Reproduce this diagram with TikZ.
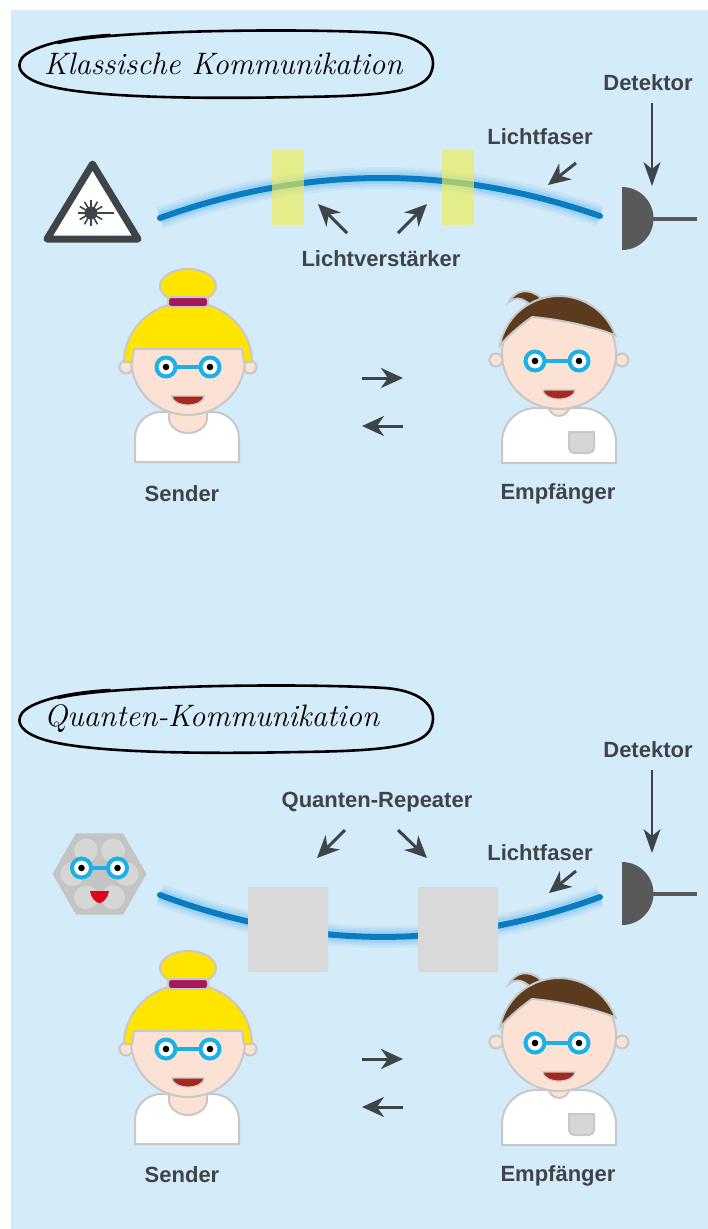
\documentclass[tikz,border=0pt]{standalone}
\usepackage{fontspec}
\usetikzlibrary{arrows.meta}
\newfontfamily\labelfont{Liberation Sans}

\definecolor{bg}{HTML}{D4EBF9}
\definecolor{ink}{HTML}{3F4449}
\definecolor{det}{HTML}{595959}
\definecolor{fib}{HTML}{0A7DC2}
\definecolor{glow}{HTML}{5DB3EA}
\definecolor{amp}{HTML}{EEED52}
\definecolor{rep}{HTML}{D9D9D9}
\definecolor{skin}{HTML}{FCE2D5}
\definecolor{outl}{HTML}{C8C8C8}
\definecolor{blond}{HTML}{FFE500}
\definecolor{band}{HTML}{A6185A}
\definecolor{brownhair}{HTML}{5C3A1E}
\definecolor{glasses}{HTML}{1BB1E7}
\definecolor{lip}{HTML}{A8281F}
\definecolor{pocket}{HTML}{D6D6D6}
\definecolor{hexg}{HTML}{C4C4C4}
\definecolor{hexc}{HTML}{D6D6D6}
\definecolor{tongue}{HTML}{E3001B}

\tikzset{
  lbl/.style={font=\labelfont\bfseries\fontsize{22}{24}\selectfont, text=ink, inner sep=0pt},
  title/.style={font=\itshape\fontsize{31}{32}\selectfont, text=black, inner sep=0pt, anchor=west},
  oval/.style={draw=black, line width=2.6pt, line cap=round},
  arr/.style={draw=ink, line width=3pt, -{Stealth[length=22pt, width=20pt, inset=7pt]}},
  darr/.style={draw=ink, line width=2pt, -{Stealth[length=24pt, width=17pt, inset=7pt]}},
  fiber/.style={draw=fib, line width=6pt, line cap=round,
    preaction={draw=glow, line width=22pt, opacity=.10},
    preaction={draw=glow, line width=17pt, opacity=.15},
    preaction={draw=glow, line width=12pt, opacity=.25}},
  skinpart/.style={draw=outl, line width=2pt, fill=skin},
  part/.style={draw=outl, line width=2pt},
  eye/.style={draw=glasses, line width=4pt, fill=white},
  % girl with a hair bun, origin at the centre of the face
  girl/.pic={
    \draw[part, fill=white] (-53,104) -- (-53,80) arc[start angle=180, end angle=270, radius=26]
      -- (25,54) arc[start angle=270, end angle=360, radius=26] -- (51,104) -- cycle;
    \draw[skinpart] (-19,38) -- (-19,60) arc[start angle=180, end angle=0, x radius=19, y radius=15] -- (19,38);
    \draw[skinpart] (-62,9) circle (6.5) (62,9) circle (6.5);
    \draw[skinpart] (0,1) ellipse[x radius=57, y radius=56];
    \draw[part, fill=blond] (0,-72) ellipse[x radius=28, y radius=17];
    \draw[part, fill=blond] (-64,4) arc[start angle=180, end angle=360, x radius=64, y radius=60]
      -- (56,4) -- (54,-9) -- (-54,-9) -- (-56,4) -- cycle;
    \draw[part, fill=band, rounded corners=3pt] (-20,-61) rectangle (20,-51);
    \draw[eye] (-22,9) circle (9.5) (22,9) circle (9.5);
    \draw[draw=glasses, line width=3.5pt] (-12.5,9) -- (12.5,9);
    \fill[black] (-22,9) circle (3.3) (22,9) circle (3.3);
    \draw[draw=outl, line width=1.2pt, fill=lip] (-16,38) arc[start angle=180, end angle=0, x radius=16, y radius=9] -- cycle;
  },
  % boy with brown hair and a shirt pocket, origin at the centre of the face
  boy/.pic={
    \draw[part, fill=white] (-57,111) -- (-57,90) arc[start angle=180, end angle=270, radius=34]
      -- (23,56) arc[start angle=270, end angle=360, radius=34] -- (57,111) -- cycle;
    \draw[part, fill=pocket] (10,80) -- (10,96) arc[start angle=180, end angle=90, radius=5]
      -- (30,101) arc[start angle=90, end angle=0, radius=5] -- (35,80) -- cycle;
    \draw[skinpart] (-11,40) -- (-11,52) arc[start angle=180, end angle=0, x radius=11, y radius=12] -- (11,40);
    \draw[skinpart] (-63,8) circle (6.5) (63,8) circle (6.5);
    \draw[skinpart] (0,2) ellipse[x radius=57, y radius=55];
    \draw[part, fill=brownhair] (-28,-46) .. controls (-36,-55) and (-44,-55) .. (-50,-50)
      .. controls (-44,-62) and (-30,-65) .. (-18,-54) -- cycle;
    \draw[part, fill=brownhair] (-59.1,-6.4) arc[start angle=190, end angle=340, radius=60]
      .. controls (40,-24) and (0,-33) .. (-27,-35) .. controls (-40,-26) and (-52,-15) .. cycle;
    \draw[eye] (-24,9) circle (9.5) (20,9) circle (9.5);
    \draw[draw=glasses, line width=3.5pt] (-14.5,9) -- (10.5,9);
    \fill[black] (-24,9) circle (3.3) (20,9) circle (3.3);
    \draw[draw=outl, line width=1.2pt, fill=lip] (-16,38) arc[start angle=180, end angle=0, x radius=16, y radius=9] -- cycle;
  },
  % photon detector: half disc with a stem
  detector/.pic={
    \fill[det] (0,-31.5) arc[start angle=270, end angle=450, radius=31.5] -- cycle;
    \draw[det, line width=4pt] (31,0) -- (75,0);
  },
  % hand-drawn oval around a heading
  headoval/.pic={
    \draw[oval] (58,-19) .. controls (110,-32) and (300,-34) .. (385,-29)
      .. controls (425,-26) and (440,-7) .. (430,13)
      .. controls (420,30) and (380,34) .. (300,35)
      .. controls (200,37) and (90,36) .. (45,23)
      .. controls (22,16) and (15,6) .. (22,-4)
      .. controls (30,-14) and (60,-24) .. (110,-27);
  }
}

\begin{document}
\begin{tikzpicture}[x=1pt, y=-1pt]
\useasboundingbox (0,0) rectangle (708,1229);
\fill[bg] (11,10) rectangle (708,1229);

% ---------------- classical communication ----------------
\pic at (0,62) {headoval};
\node[title] (t1) at (44,64) {Klassische Kommunikation};

% laser warning sign
\draw[draw=ink, fill=white, line width=7pt, line join=round] (92.5,164) -- (138,239) -- (47,239) -- cycle;
\fill[ink] (91,213) circle (6.5);
\foreach \a in {0,30,...,330} \draw[ink, line width=1.6pt] (91,213) -- ++(\a:13);
\draw[ink, line width=1.5pt] (91,213) -- (114,213);

% fibre with two classical amplifiers
\coordinate (f1s) at (160,218);
\coordinate (f1e) at (600,216);
\draw[fiber] (f1s) .. controls (307,165) and (453,165) .. (f1e);
\fill[amp, opacity=.65] (272,150) rectangle (304,225);
\fill[amp, opacity=.65] (442,150) rectangle (474,225);

\pic at (622,218.5) {detector};
\node[lbl] (det1) at (648,83) {Detektor};
\coordinate (det1a) at (652,103);
\coordinate (det1b) at (652,186);
\draw[darr] (det1a) -- (det1b);

\node[lbl] (lf1) at (540,137) {Lichtfaser};
\coordinate (lf1a) at (576,163);
\coordinate (lf1b) at (548,185);
\draw[arr] (lf1a) -- (lf1b);

\node[lbl] (amp) at (381,259) {Lichtverstärker};
\coordinate (amp1a) at (347,233);
\coordinate (amp1b) at (318,204);
\coordinate (amp2a) at (398,233);
\coordinate (amp2b) at (427,204);
\draw[arr] (amp1a) -- (amp1b);
\draw[arr] (amp2a) -- (amp2b);

\pic at (188,358) {girl};
\pic at (559,352) {boy};
\node[lbl] (s1) at (182,494) {Sender};
\node[lbl] (e1) at (558,494) {Empfänger};
\coordinate (m1a) at (362,378);
\coordinate (m1b) at (403,378);
\coordinate (m1c) at (403,426);
\coordinate (m1d) at (362,426);
\draw[arr] (m1a) -- (m1b);
\draw[arr] (m1c) -- (m1d);

% ---------------- quantum communication ----------------
\pic at (0,717) {headoval};
\node[title] (t2) at (44,719) {Quanten-Kommunikation};

% single-photon source
\fill[hexg] (146.5,874) -- (123,914.7) -- (76,914.7) -- (52.5,874) -- (76,833.3) -- (123,833.3) -- cycle;
\foreach \a in {0,60,...,300} \fill[hexc] (99.5,874) ++(\a:27) circle (12);
\draw[eye] (81.5,868) circle (9.5) (117.5,868) circle (9.5);
\draw[draw=glasses, line width=3.5pt] (91,868) -- (108,868);
\fill[black] (81.5,868) circle (3.3) (117.5,868) circle (3.3);
\fill[tongue] (90,891) -- (109,891) .. controls (108,898) and (103,903) .. (99.5,903)
  .. controls (96,903) and (91,898) .. cycle;

% fibre with two quantum repeaters
\coordinate (f2s) at (160,895);
\coordinate (f2e) at (600,897);
\draw[fiber] (f2s) .. controls (307,950) and (453,951) .. (f2e);
\fill[rep, rounded corners=2pt] (248,887) rectangle (328,972);
\fill[rep, rounded corners=2pt] (418,887) rectangle (498,972);

\pic at (622,893.5) {detector};
\node[lbl] (det2) at (648,750) {Detektor};
\coordinate (det2a) at (652,770);
\coordinate (det2b) at (652,853);
\draw[darr] (det2a) -- (det2b);

\node[lbl] (lf2) at (540,853) {Lichtfaser};
\coordinate (lf2a) at (576,871);
\coordinate (lf2b) at (549,893);
\draw[arr] (lf2a) -- (lf2b);

\node[lbl] (qr) at (377,802) {Quanten-Repeater};
\coordinate (qr1a) at (345,830);
\coordinate (qr1b) at (317,858);
\coordinate (qr2a) at (398,830);
\coordinate (qr2b) at (427,858);
\draw[arr] (qr1a) -- (qr1b);
\draw[arr] (qr2a) -- (qr2b);

\pic at (188,1040) {girl};
\pic at (559,1034) {boy};
\node[lbl] (s2) at (182,1175) {Sender};
\node[lbl] (e2) at (558,1176) {Empfänger};
\coordinate (m2a) at (362,1059);
\coordinate (m2b) at (403,1059);
\coordinate (m2c) at (403,1107);
\coordinate (m2d) at (362,1107);
\draw[arr] (m2a) -- (m2b);
\draw[arr] (m2c) -- (m2d);
\end{tikzpicture}
\end{document}
